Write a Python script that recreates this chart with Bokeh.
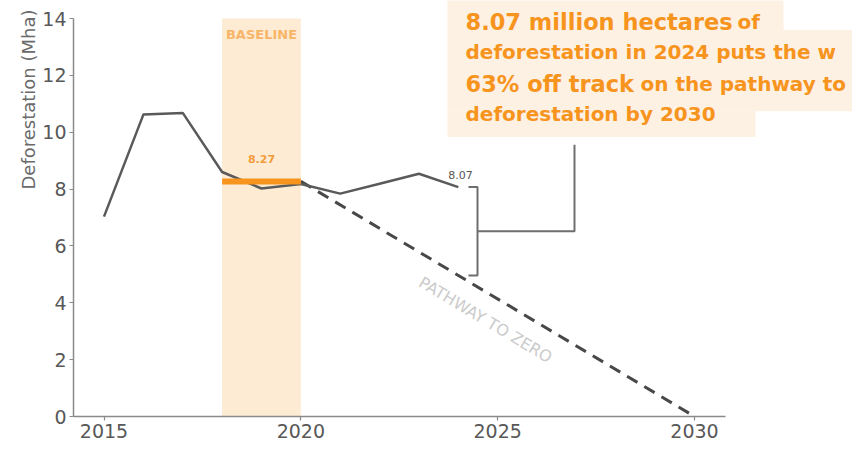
import math
from bokeh.plotting import figure
from bokeh.models import Range1d, FixedTicker, Title
from bokeh.core.properties import value
from bokeh.embed import file_html
from bokeh.resources import INLINE

# ---------------- data ----------------
years = [2015, 2016, 2017, 2018, 2019, 2020, 2021, 2022, 2023, 2024]
deforestation = [7.03, 10.62, 10.68, 8.60, 8.02, 8.18, 7.84, 8.19, 8.54, 8.07]
baseline_years = [2018, 2020]
baseline_value = 8.27
baseline_label = "8.27"
latest_label = "8.07"
target_year = 2030
x_ticks = [2015, 2020, 2025, 2030]
y_ticks = [0, 2, 4, 6, 8, 10, 12, 14]
band_label = "BASELINE"
pathway_label = "PATHWAY TO ZERO"
y_title = "Deforestation (Mha)"
headline_bold = ["8.07 million hectares", "63% off track"]
headline_regular = ["of", "deforestation in 2024 puts the w",
                    "on the pathway to", "deforestation by 2030"]

# ---------------- layout helpers (reference pixel -> data) ----------------
PX_PER_YEAR = 39.37
X0_PX = 103.5          # x pixel of 2015
PX_PER_UNIT = 29.71
Y0_PX = 434.0          # y pixel of 0


def px_x(px):
    return 2015 + (px - X0_PX) / PX_PER_YEAR


def px_y(py):
    return (Y0_PX - py) / PX_PER_UNIT


W, H = 852, 446
BOTTOM = 30
frame_h = H - BOTTOM
unit = (frame_h - 18) / 14.0
y_end = 14 + 18 / unit

ORANGE = "#f7941d"
GRAY = "#5a5a5a"
AXIS = "#8a8a8a"

p = figure(width=W, height=H,
           x_range=Range1d(px_x(73), px_x(W)),
           y_range=Range1d(0, y_end),
           output_backend="svg", toolbar_location=None,
           min_border_left=73, min_border_right=0,
           min_border_top=0, min_border_bottom=BOTTOM)
p.outline_line_color = None
p.xgrid.grid_line_color = None
p.ygrid.grid_line_color = None

# axes
p.xaxis.ticker = FixedTicker(ticks=x_ticks)
p.yaxis.ticker = FixedTicker(ticks=y_ticks)
p.xaxis.bounds = (px_x(73), px_x(725))
p.yaxis.bounds = (0, 14)
for ax in (p.xaxis[0], p.yaxis[0]):
    ax.axis_line_color = AXIS
    ax.axis_line_width = 1.5
    ax.major_tick_line_color = AXIS
    ax.major_tick_line_width = 1.2
    ax.major_tick_in = 0
    ax.major_tick_out = 4
    ax.minor_tick_line_color = None
    ax.major_label_text_color = "#585858"
    ax.major_label_text_font = "DejaVu Sans"
p.xaxis.major_label_text_font_size = "19px"
p.yaxis.major_label_text_font_size = "19px"
p.xaxis.major_label_standoff = 3
p.yaxis.major_label_standoff = 3

# y axis title (placed at the top end, like the reference)
p.add_layout(Title(text=y_title, align="right", offset=9, standoff=2,
                   text_font="DejaVu Sans", text_font_size="18px",
                   text_font_style="normal", text_color="#6a6a6a"), "left")

# baseline band
p.quad(left=[baseline_years[0]], right=[baseline_years[1]], bottom=[0], top=[14],
       fill_color="#fde7cd", fill_alpha=0.85, line_color=None)
p.text(x=[sum(baseline_years) / 2], y=[px_y(35)], text=[band_label],
       text_font=value("DejaVu Sans"), text_font_style="bold", text_font_size="13px",
       text_color="#f8b567", text_align="center", text_baseline="middle")

# headline box background
p.quad(left=[px_x(447)] * 3,
       right=[px_x(783), px_x(W + 10), px_x(755)],
       top=[px_y(-20), px_y(30), px_y(115)],
       bottom=[px_y(30), px_y(115), px_y(142)],
       fill_color="#fdf1e3", line_color=None)

# pathway to zero (dashed)
p.line(x=[baseline_years[1], target_year], y=[baseline_value, 0],
       line_color="#484848", line_width=3, line_dash="12 8")

# deforestation series
p.line(x=years, y=deforestation, line_color=GRAY, line_width=2.5, line_join="round")

# baseline level
p.line(x=baseline_years, y=[baseline_value] * 2, line_color=ORANGE, line_width=6)
p.text(x=[sum(baseline_years) / 2], y=[px_y(165)], text=[baseline_label],
       text_font=value("DejaVu Sans"), text_font_style="bold", text_font_size="11px",
       text_color="#f39c3c", text_align="center", text_baseline="middle")

# latest value label
p.text(x=[px_x(460)], y=[px_y(182)], text=[latest_label],
       text_font=value("DejaVu Sans"), text_font_size="11px",
       text_color="#555555", text_align="center", text_baseline="middle")

# pathway label
angle = -math.atan((baseline_value * unit) / ((target_year - baseline_years[1]) * PX_PER_YEAR))
p.text(x=[px_x(485)], y=[px_y(333)], text=[pathway_label], angle=angle,
       text_font=value("DejaVu Sans"), text_font_size="16px",
       text_color="#cbcbcb", text_align="center", text_baseline="middle")

# gap bracket
latest_year = years[-1]
latest_value = deforestation[-1]
pathway_latest = baseline_value * (target_year - latest_year) / (target_year - baseline_years[1])
mid = (latest_value + pathway_latest) / 2
bx = px_x(477)
bx_cap = px_x(468)
p.line(x=[bx_cap, bx, bx, bx_cap], y=[latest_value, latest_value, pathway_latest, pathway_latest],
       line_color="#6e6e6e", line_width=2)
p.line(x=[bx, px_x(574), px_x(574)], y=[mid, mid, px_y(150)],
       line_color="#6e6e6e", line_width=2)

# headline text
line_y = [px_y(22), px_y(53.5), px_y(87), px_y(117.5)]
p.text(x=[px_x(465), px_x(465)], y=[line_y[0], line_y[2]], text=headline_bold,
       text_font=value("DejaVu Sans"), text_font_style="bold", text_font_size="22.5px",
       text_color=ORANGE, text_align="left", text_baseline="middle")
p.text(x=[px_x(737), px_x(465), px_x(640), px_x(465)],
       y=[line_y[0], line_y[1], line_y[2], line_y[3]], text=headline_regular,
       text_font=value("DejaVu Sans"), text_font_style="bold", text_font_size="20px",
       text_color=ORANGE, text_align="left", text_baseline="middle")

open("out.html", "w").write(file_html(p, INLINE))
